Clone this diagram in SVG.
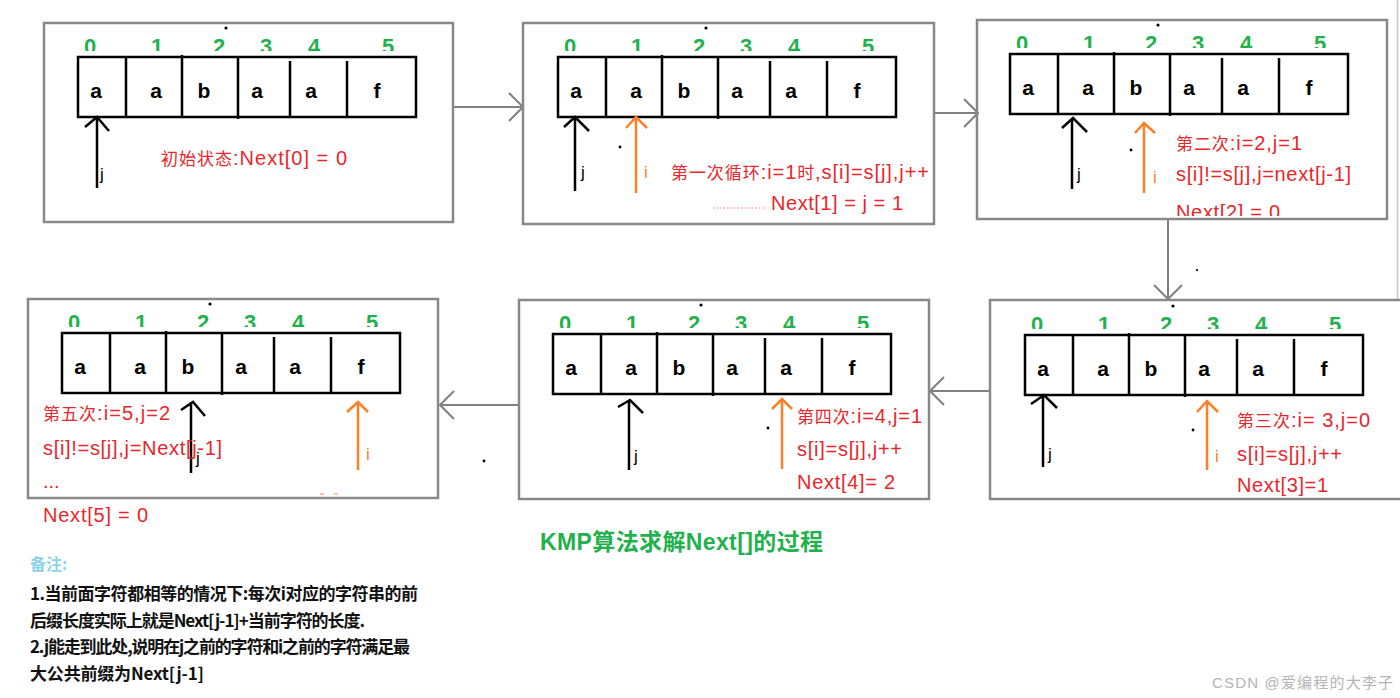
<svg xmlns="http://www.w3.org/2000/svg" xmlns:xlink="http://www.w3.org/1999/xlink" width="1400" height="698" viewBox="0 0 1400 698">
<style>
.box{fill:none;stroke:#888;stroke-width:2.5}
.cell{fill:none;stroke:#000;stroke-width:2.5}
.ch{font-family:"Liberation Sans",Arial,sans-serif;font-weight:bold;font-size:21px;fill:#000;text-anchor:middle}
.num{font-family:"Liberation Sans",Arial,sans-serif;font-weight:bold;font-size:22px;fill:#22b14c;text-anchor:middle}
.pj{fill:none;stroke:#000;stroke-width:2.5}
.pi{fill:none;stroke:#ff7f27;stroke-width:2.5}
.lj{font-family:"Liberation Sans",Arial,sans-serif;font-size:17px;fill:#000}
.li{font-family:"Liberation Sans",Arial,sans-serif;font-size:17px;fill:#ff7f27}
.rt{font-family:"Liberation Sans","Noto Sans CJK SC",sans-serif;font-size:20px;fill:#e8262c}
.cj{font-family:"Noto Sans CJK SC",sans-serif;font-size:17px}
.con{fill:none;stroke:#808080;stroke-width:2}
.note{font-family:"Noto Sans CJK SC","Liberation Sans",sans-serif;font-weight:bold;font-size:17px;fill:#111}
</style>
<defs>
<clipPath id="dclip" clipPathUnits="userSpaceOnUse"><rect x="-10" y="-40" width="360" height="34"/></clipPath>
<clipPath id="p3clip" clipPathUnits="userSpaceOnUse"><rect x="1100" y="190" width="280" height="26"/></clipPath>
<marker id="chev" viewBox="0 0 16 30" refX="15" refY="15" markerWidth="16" markerHeight="30" markerUnits="userSpaceOnUse" orient="auto"><path d="M1,1 L15,15 L1,29" fill="none" stroke="#808080" stroke-width="2"/></marker>
<g id="strip">
<g clip-path="url(#dclip)" class="num">
<text x="12" y="-3">0</text><text x="79" y="-3">1</text><text x="141" y="-3">2</text><text x="188" y="-3">3</text><text x="236" y="-3">4</text><text x="310" y="-3">5</text>
</g>
<rect class="cell" x="0" y="0" width="338" height="60"/>
<path class="cell" d="M48,0V60 M104,-2V60 M160,0V62 M212,4V60 M269,4V60"/>
<text class="ch" x="18" y="41">a</text><text class="ch" x="78" y="41">a</text><text class="ch" x="126" y="41">b</text><text class="ch" x="179" y="41">a</text><text class="ch" x="233" y="41">a</text><text class="ch" x="299" y="41">f</text>
<circle cx="148" cy="-29" r="1.6" fill="#000"/>
</g>
</defs>
<rect width="1400" height="698" fill="#fff"/>
<line x1="1397.5" y1="0" x2="1397.5" y2="300" stroke="#c8c8c8" stroke-width="1.5"/>

<g id="connectors">
<path class="con" d="M453,107 H523" marker-end="url(#chev)"/>
<path class="con" d="M934,113 H978" marker-end="url(#chev)"/>
<path class="con" d="M1168,219 V299" marker-end="url(#chev)"/>
<path class="con" d="M990,391 H930" marker-end="url(#chev)"/>
<path class="con" d="M519,405 H440" marker-end="url(#chev)"/>
</g>

<g id="step0">
<rect class="box" x="44" y="23" width="409" height="199"/>
<use href="#strip" x="78" y="57"/>
<path class="pj" d="M97,188V117 M85,127L97,117L109,131"/>
<text class="lj" x="100" y="180">j</text>
<text class="rt" x="161" y="165" textLength="186" lengthAdjust="spacing"><tspan class="cj">初始状态</tspan>:Next[0] = 0</text>
</g>

<g id="step1">
<rect class="box" x="523" y="23" width="411" height="201"/>
<use href="#strip" x="558" y="57"/>
<path class="pj" d="M575,191V117 M564,127L575,117L589,131"/>
<text class="lj" x="581" y="178">j</text>
<path class="pi" d="M636,193V117 M626,128L636,117L647,128"/>
<text class="li" x="644" y="178">i</text>
<circle cx="620" cy="147" r="1.4" fill="#000"/>
<text class="rt" x="671" y="179" textLength="258" lengthAdjust="spacing"><tspan class="cj">第一次循环</tspan>:i=1<tspan class="cj">时</tspan>,s[i]=s[j],j++</text>
<line x1="713" y1="208" x2="766" y2="208" stroke="#e8262c" stroke-width="1" stroke-dasharray="1.5,2" opacity="0.6"/>
<text class="rt" x="771" y="210" textLength="132" lengthAdjust="spacing">Next[1] = j = 1</text>
</g>

<g id="step2">
<rect class="box" x="977" y="20" width="410" height="199"/>
<use href="#strip" x="1010" y="54"/>
<path class="pj" d="M1072,189V118 M1062,128L1073,118L1087,132"/>
<text class="lj" x="1077" y="180">j</text>
<path class="pi" d="M1144,193V123 M1135,133L1144,123L1155,133"/>
<text class="li" x="1153" y="183">i</text>
<circle cx="1131" cy="150" r="1.4" fill="#000"/>
<text class="rt" x="1176" y="150" textLength="126" lengthAdjust="spacing"><tspan class="cj">第二次</tspan>:i=2,j=1</text>
<text class="rt" x="1176" y="181" textLength="175" lengthAdjust="spacing">s[i]!=s[j],j=next[j-1]</text>
<text class="rt" x="1176" y="219" textLength="104" lengthAdjust="spacing" clip-path="url(#p3clip)">Next[2] = 0</text>
</g>

<g id="step3">
<rect class="box" x="990" y="300" width="412" height="199"/>
<use href="#strip" x="1025" y="335"/>
<path class="pj" d="M1043,467V396 M1031,404L1044,395L1057,408"/>
<text class="lj" x="1048" y="460">j</text>
<path class="pi" d="M1207,470V401 M1197,412L1207,401L1218,412"/>
<text class="li" x="1215" y="462">i</text>
<circle cx="1193" cy="430" r="1.4" fill="#000"/>
<text class="rt" x="1237" y="427" textLength="133" lengthAdjust="spacing"><tspan class="cj">第三次</tspan>:i= 3,j=0</text>
<text class="rt" x="1237" y="461" textLength="105" lengthAdjust="spacing">s[i]=s[j],j++</text>
<text class="rt" x="1237" y="492" textLength="91" lengthAdjust="spacing">Next[3]=1</text>
</g>

<g id="step4">
<rect class="box" x="519" y="300" width="410" height="199"/>
<use href="#strip" x="553" y="334"/>
<path class="pj" d="M629,470V400 M618,407L630,400L643,413"/>
<text class="lj" x="634" y="462">j</text>
<path class="pi" d="M782,469V399 M772,409L782,399L792,409"/>
<circle cx="768" cy="428" r="1.4" fill="#000"/>
<text class="rt" x="797" y="423" textLength="125" lengthAdjust="spacing"><tspan class="cj">第四次</tspan>:i=4,j=1</text>
<text class="rt" x="797" y="456" textLength="105" lengthAdjust="spacing">s[i]=s[j],j++</text>
<text class="rt" x="797" y="489" textLength="98" lengthAdjust="spacing">Next[4]= 2</text>
</g>

<g id="step5">
<rect class="box" x="28" y="299" width="410" height="199"/>
<use href="#strip" x="62" y="333"/>
<path class="pj" d="M191,473V402 M181,410L193,402L205,416"/>
<text class="lj" x="196" y="464">j</text>
<path class="pi" d="M358,470V402 M347,412L358,402L368,412"/>
<text class="li" x="366" y="460">i</text>
<path d="M320,494h4 M334,494h4" stroke="#ff7f27" stroke-width="1.5" opacity="0.6"/>
<text class="rt" x="43" y="420" textLength="127" lengthAdjust="spacing"><tspan class="cj">第五次</tspan>:i=5,j=2</text>
<text class="rt" x="43" y="455" textLength="179" lengthAdjust="spacing">s[i]!=s[j],j=Next[j-1]</text>
<text class="rt" x="43" y="488">...</text>
<text class="rt" x="43" y="522" textLength="105" lengthAdjust="spacing">Next[5] = 0</text>
</g>
<circle cx="484" cy="461" r="1.4" fill="#000"/>
<circle cx="1197" cy="270" r="1.2" fill="#333"/>

<g id="title">
<text x="540" y="550" textLength="283" lengthAdjust="spacing" style="font-family:'Liberation Sans','Noto Sans CJK SC',sans-serif;font-weight:bold;font-size:23px;fill:#22b14c">KMP<tspan style="font-family:'Noto Sans CJK SC',sans-serif">算法求解</tspan>Next[]<tspan style="font-family:'Noto Sans CJK SC',sans-serif">的过程</tspan></text>
</g>

<g id="notes">
<text x="30" y="570" style="font-family:'Noto Sans CJK SC',sans-serif;font-weight:bold;font-size:16px;fill:#8dd3e8">备注:</text>
<text class="note" x="30" y="600" textLength="388" lengthAdjust="spacing">1.当前面字符都相等的情况下:每次i对应的字符串的前</text>
<text class="note" x="30" y="627" textLength="335" lengthAdjust="spacing">后缀长度实际上就是Next[j-1]+当前字符的长度.</text>
<text class="note" x="30" y="653" textLength="380" lengthAdjust="spacing">2.j能走到此处,说明在j之前的字符和i之前的字符满足最</text>
<text class="note" x="30" y="680" textLength="174" lengthAdjust="spacing">大公共前缀为Next[j-1]</text>
</g>

<text x="1212" y="688" textLength="181" lengthAdjust="spacing" style="font-family:'Liberation Sans','Noto Sans CJK SC',sans-serif;font-size:15px;fill:#b4b4b4">CSDN @<tspan style="font-family:'Noto Sans CJK SC',sans-serif">爱编程的大李子</tspan></text>
</svg>
